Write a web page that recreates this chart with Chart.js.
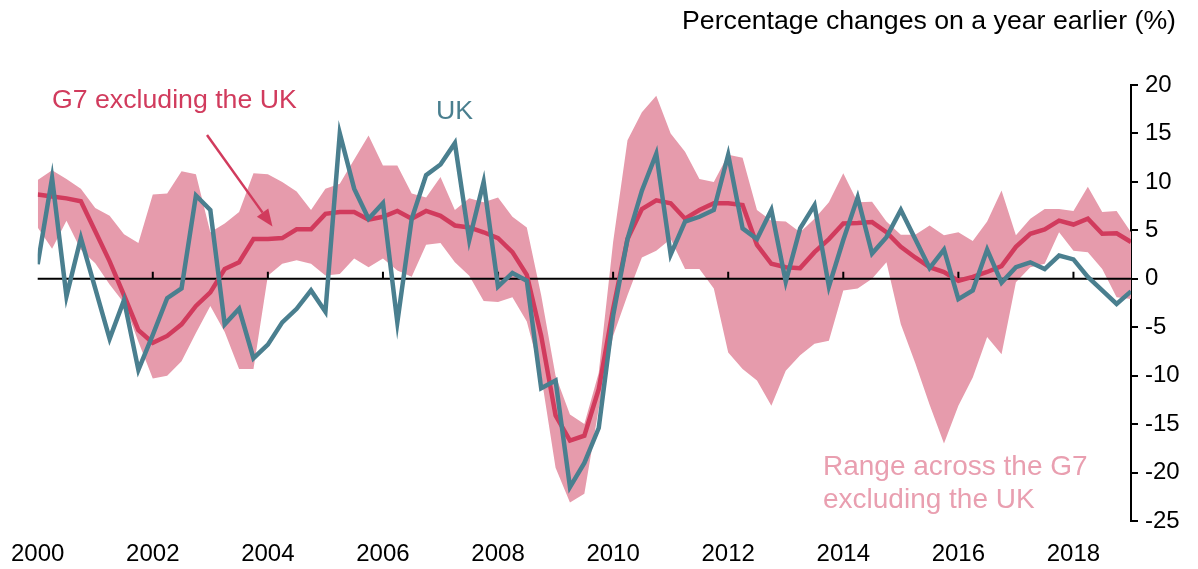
<!DOCTYPE html>
<html>
<head>
<meta charset="utf-8">
<title>UK and G7 excluding the UK</title>
<script src="https://cdn.jsdelivr.net/npm/chart.js@4.4.1/dist/chart.umd.min.js"></script>
<style>
  body { margin: 0; background: #fff; }
  #wrap { width: 1198px; height: 569px; }
</style>
</head>
<body>
<div id="wrap"><canvas id="chart"></canvas></div>
<script>
// quarterly data, first point = 2000 Q1
const startYear = 2000;

const ukValues = [
    1.5, 10.4, -1.8, 4.2, -1.0, -6.2, -2.2, -9.4, -5.8, -2.0,
    -1.0, 8.6, 7.1, -4.7, -3.1, -8.2, -6.8, -4.5, -3.1, -1.2,
    -3.4, 15.0, 9.3, 6.2, 7.8, -4.5, 6.2, 10.7, 11.8, 14.0,
    4.0, 10.0, -0.8, 0.6, -0.2, -11.3, -10.5, -21.5, -19.0, -15.4,
    -3.8, 4.1, 9.1, 12.9, 2.5, 5.9, 6.4, 7.1, 12.8, 5.2,
    4.1, 7.1, -0.3, 5.2, 7.6, -0.8, 4.0, 8.4, 2.6, 4.3,
    7.1, 4.1, 1.1, 3.0, -2.1, -1.2, 3.0, -0.4, 1.2, 1.7,
    1.0, 2.4, 2.0, 0.2, -1.2, -2.6, -1.3
];

const g7Values = [
    8.7, 8.5, 8.3, 8.0, 4.9, 1.8, -1.7, -5.3, -6.6, -5.9,
    -4.7, -2.8, -1.4, 1.0, 1.7, 4.1, 4.1, 4.2, 5.1, 5.1,
    6.7, 6.9, 6.9, 6.1, 6.4, 7.0, 6.2, 7.0, 6.5, 5.5,
    5.3, 4.8, 4.2, 2.75, 0.4, -5.9, -14.1, -16.7, -16.2, -11.4,
    -3.1, 4.1, 7.2, 8.1, 7.8, 6.2, 7.1, 7.8, 7.8, 7.6,
    3.5, 1.55, 1.2, 1.1, 2.75, 4.1, 5.7, 5.75, 5.85, 4.8,
    3.3, 2.2, 1.2, 0.7, -0.2, 0.2, 0.7, 1.3, 3.3, 4.65,
    5.1, 6.0, 5.6, 6.2, 4.65, 4.7, 3.8
];

const rangeHigh = [
    10.2, 11.2, 10.3, 9.3, 7.3, 6.5, 4.6, 3.7, 8.7, 8.8,
    11.1, 10.8, 4.8, 5.7, 6.9, 10.9, 10.8, 10.0, 9.0, 7.1,
    9.3, 9.8, 12.3, 14.8, 11.7, 11.7, 8.8, 8.4, 10.5, 7.1,
    8.3, 7.9, 8.4, 6.4, 5.3, -1.7, -10.0, -14.0, -15.0, -9.7,
    3.8, 14.3, 17.2, 18.9, 15.0, 13.1, 10.3, 10.0, 12.8, 12.5,
    7.1, 6.0, 5.9, 4.8, 6.2, 7.9, 10.9, 7.9, 7.95, 5.9,
    4.55, 4.55, 5.5, 4.5, 4.8, 3.9, 5.9, 9.1, 4.5, 6.2,
    7.2, 7.2, 7.0, 9.5, 6.9, 7.0, 4.8
];

const rangeLow = [
    5.3, 3.1, 6.0, 3.0, 1.6, -0.6, -2.5, -6.5, -10.3, -10.0,
    -8.5, -5.6, -2.8, -5.5, -9.3, -9.3, 0.3, 1.55, 1.9, 1.55,
    0.35, 0.5, 2.1, 1.2, 2.1, 0.85, 0.2, 3.5, 3.7, 1.7,
    0.3, -2.3, -2.4, -1.9, -4.4, -10.0, -19.5, -23.1, -22.2, -13.4,
    -5.9, -1.7, 2.2, 2.9, 4.1, 1.0, 1.0, -1.0, -7.6, -9.3,
    -10.5, -13.1, -9.5, -7.9, -6.7, -6.4, -1.2, -1.0, 0.0, 1.7,
    -4.7, -8.7, -13.0, -17.0, -13.1, -10.2, -6.0, -7.8, -0.35, 1.2,
    1.55, 4.8, 2.9, 2.75, 1.0, -1.9, -2.1
];

const yearTicks = [2000, 2002, 2004, 2006, 2008, 2010, 2012, 2014, 2016, 2018];

const quarters = ukValues.map((v, i) => startYear + i / 4);
const toPoints = arr => arr.map((v, i) => ({ x: quarters[i], y: v }));

const RED = '#d13b5d';
const TEAL = '#4a7f8f';
const PINK = '#e69bac';
const FONT = '"Liberation Sans", Arial, sans-serif';

// zero line, year ticks and the text labels
const decorations = {
    id: 'decorations',
    afterDatasetDraw(chart, args) {
        if (args.index !== 1) return;
        const ctx = chart.ctx;
        const x = chart.scales.x, y = chart.scales.y;
        const y0 = y.getPixelForValue(0);
        ctx.save();
        ctx.strokeStyle = '#000';
        ctx.lineWidth = 2;
        ctx.beginPath();
        ctx.moveTo(chart.chartArea.left, y0);
        ctx.lineTo(chart.chartArea.right, y0);
        yearTicks.forEach(yr => {
            if (yr <= x.min) return;
            const px = x.getPixelForValue(yr);
            ctx.moveTo(px, y0);
            ctx.lineTo(px, y0 - 7);
        });
        ctx.stroke();
        ctx.restore();
    },
    afterDraw(chart) {
        const ctx = chart.ctx;
        const x = chart.scales.x, y = chart.scales.y;
        ctx.save();
        ctx.textBaseline = 'middle';

        ctx.font = '26.7px ' + FONT;
        ctx.fillStyle = '#000';
        ctx.textAlign = 'right';
        ctx.fillText('Percentage changes on a year earlier (%)', 1176, 22);

        ctx.textAlign = 'left';
        ctx.fillStyle = RED;
        ctx.fillText('G7 excluding the UK', 52, 101);

        ctx.fillStyle = TEAL;
        ctx.fillText('UK', 436, 112);

        ctx.font = '28px ' + FONT;
        ctx.fillStyle = '#e99fb0';
        ctx.fillText('Range across the G7', 823, 467);
        ctx.fillText('excluding the UK', 823, 500);

        // arrow pointing at the G7 line
        const sx = 207, sy = 135;
        const tx = x.getPixelForValue(2004.08), ty = y.getPixelForValue(5.4);
        const ang = Math.atan2(ty - sy, tx - sx);
        const head = 17, half = 7;
        const bx = tx - head * Math.cos(ang), by = ty - head * Math.sin(ang);
        ctx.strokeStyle = RED;
        ctx.fillStyle = RED;
        ctx.lineWidth = 2.5;
        ctx.beginPath();
        ctx.moveTo(sx, sy);
        ctx.lineTo(bx, by);
        ctx.stroke();
        ctx.beginPath();
        ctx.moveTo(tx, ty);
        ctx.lineTo(bx + half * Math.sin(ang), by - half * Math.cos(ang));
        ctx.lineTo(bx - half * Math.sin(ang), by + half * Math.cos(ang));
        ctx.closePath();
        ctx.fill();
        ctx.restore();
    }
};

const config = {
    type: 'line',
    data: {
        datasets: [
            {
                label: 'Range low',
                data: toPoints(rangeLow),
                borderWidth: 0,
                borderColor: 'rgba(0,0,0,0)',
                pointRadius: 0,
                fill: false,
                order: 4
            },
            {
                label: 'Range across the G7 excluding the UK',
                data: toPoints(rangeHigh),
                borderWidth: 0,
                borderColor: 'rgba(0,0,0,0)',
                backgroundColor: PINK,
                pointRadius: 0,
                fill: '-1',
                order: 3
            },
            {
                label: 'G7 excluding the UK',
                data: toPoints(g7Values),
                borderColor: RED,
                borderWidth: 4.5,
                pointRadius: 0,
                fill: false,
                order: 2
            },
            {
                label: 'UK',
                data: toPoints(ukValues),
                borderColor: TEAL,
                borderWidth: 4.5,
                pointRadius: 0,
                fill: false,
                order: 1
            }
        ]
    },
    options: {
        responsive: true,
        maintainAspectRatio: false,
        animation: false,
        layout: { padding: { left: 30, top: 85, right: 0, bottom: 0 } },
        elements: { line: { tension: 0, borderJoinStyle: 'miter' } },
        plugins: {
            legend: { display: false },
            title: { display: false },
            tooltip: { enabled: false }
        },
        scales: {
            x: {
                type: 'linear',
                min: 2000,
                max: 2019,
                // tick marks are not shown, the length only pushes the labels down
                grid: { display: false, drawTicks: true, tickLength: 8 },
                border: { display: false },
                ticks: {
                    stepSize: 2,
                    includeBounds: false,
                    autoSkip: false,
                    maxRotation: 0,
                    padding: 11,
                    color: '#000',
                    font: { family: FONT, size: 24 },
                    callback: v => String(v)
                },
                afterFit: s => { s.height = 48; }
            },
            y: {
                position: 'right',
                min: -25,
                max: 20,
                grid: { drawOnChartArea: false, drawTicks: true, tickLength: 7, color: '#000', lineWidth: 2 },
                border: { color: '#000', width: 2 },
                ticks: {
                    stepSize: 5,
                    padding: 7,
                    color: '#000',
                    font: { family: FONT, size: 24 },
                    callback: v => String(v)
                },
                afterFit: s => { s.width = 67; }
            }
        }
    },
    plugins: [decorations]
};

window.onload = function() {
    const ctx = document.getElementById('chart').getContext('2d');
    new Chart(ctx, config);
};
</script>
</body>
</html>
